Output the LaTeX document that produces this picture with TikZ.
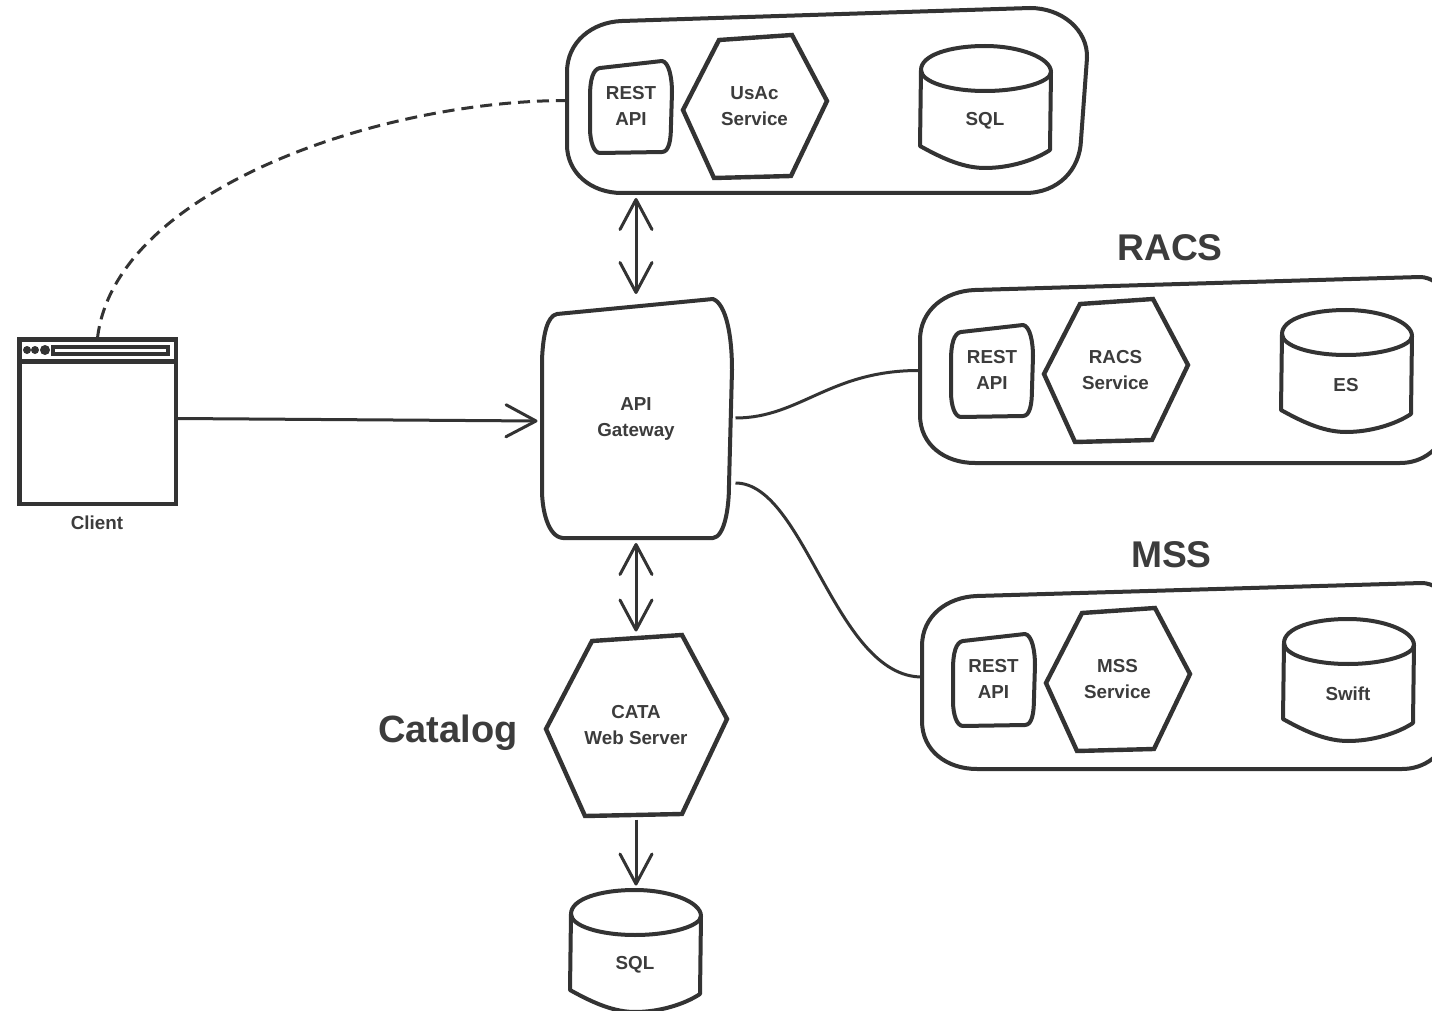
\documentclass[tikz,border=0pt]{standalone}
\usepackage{fontspec}
\setmainfont{Liberation Sans}
\usetikzlibrary{arrows.meta}
\definecolor{ink}{HTML}{333333}
\definecolor{inktext}{HTML}{3C3C3C}
\tikzset{
  outline/.style={draw=ink,line width=2pt,line join=round},
  thickoutline/.style={draw=ink,line width=2.2pt,line join=miter},
  link/.style={draw=ink,line width=1.5pt},
  openarrow/.style={link,-{Straight Barb[length=15pt,width=16pt,round]}},
  bothopen/.style={link,{Straight Barb[length=15pt,width=16pt,round]}-{Straight Barb[length=15pt,width=16pt,round]}},
  dashedlink/.style={draw=ink,line width=1.5pt,dash pattern=on 6pt off 3.5pt},
  label text/.style={inner sep=0pt,outer sep=0pt,align=center,text=inktext,font=\fontsize{9.4}{13}\selectfont\bfseries},
  heading/.style={inner sep=0pt,outer sep=0pt,text=inktext,font=\fontsize{18.6}{22}\selectfont\bfseries},
  restshape/.pic={
    \path[outline] (600,68) -- (662,61) .. controls (669,62) and (672,78) .. (672,92) -- (671,125)
      .. controls (671,140) and (669,152) .. (662,152) -- (600,153)
      .. controls (594,153) and (590,142) .. (590,128) -- (590,96)
      .. controls (590,80) and (593,69) .. (600,68) -- cycle;
  },
  hexshape/.pic={
    \path[thickoutline] (719,40) -- (792,35) -- (827,101) -- (791,176) -- (714,178) -- (683,110) -- cycle;
  },
  cylshape/.pic={
    \path[outline] (921,70) .. controls (921,55) and (950,46) .. (985,46)
      .. controls (1020,46) and (1051,58) .. (1051,72)
      .. controls (1051,82) and (1020,91) .. (985,91)
      .. controls (950,91) and (921,82) .. (921,70) -- cycle;
    \path[outline] (921,70) -- (920,146) .. controls (945,160) and (965,168) .. (985,168)
      .. controls (1010,168) and (1035,160) .. (1050,150) -- (1051,72);
  },
  groupshape/.pic={
    \path[outline] (975,290) -- (1420,277) .. controls (1430,277) and (1442,284) .. (1452,300)
      -- (1452,420) .. controls (1442,450) and (1422,463) .. (1400,463)
      -- (975,463) .. controls (945,463) and (920,445) .. (920,415)
      -- (920,340) .. controls (920,310) and (945,291) .. (975,290) -- cycle;
  }
}
\begin{document}
\begin{tikzpicture}[x=0.5pt,y=-0.5pt]
\clip (0,0) rectangle (1432,1011);
\fill[white] (0,0) rectangle (1432,1011);

% top group
\path[outline] (622,21) -- (1030,8) .. controls (1062,8) and (1088,30) .. (1087,58)
  -- (1081,140) .. controls (1080,170) and (1058,193) .. (1025,193)
  -- (622,193) .. controls (590,193) and (567,172) .. (567,145)
  -- (567,72) .. controls (567,42) and (592,22) .. (622,21) -- cycle;
\pic at (0,0) {restshape};
\pic at (0,0) {hexshape};
\pic at (0,0) {cylshape};

% RACS group
\pic at (0,0) {groupshape};
\pic at (361,264) {restshape};
\pic at (361,264) {hexshape};
\pic at (361,264) {cylshape};

% MSS group
\pic at (2,306) {groupshape};
\pic at (363,573) {restshape};
\pic at (363,573) {hexshape};
\pic at (363,573) {cylshape};

% gateway
\path[outline] (557,314) -- (713,299) .. controls (726,304) and (732,335) .. (732,370)
  -- (729,485) .. controls (729,510) and (724,537) .. (713,538)
  -- (563,538) .. controls (548,537) and (542,510) .. (542,490)
  -- (542,360) .. controls (543,335) and (547,316) .. (557,314) -- cycle;

% catalog hexagon
\path[thickoutline] (592,641) -- (682,635) -- (727,719) -- (682,814) -- (585,816) -- (546,729) -- cycle;

% catalog database
\pic at (-350,844) {cylshape};

% client window
\path[draw=ink,line width=2.4pt] (19.5,339.5) rectangle (176,504);
\path[draw=ink,line width=2.2pt] (19,361.5) -- (176,361.5);
\path[draw=ink,line width=2pt] (53,347) rectangle (168,354);
\fill[ink] (27,350) circle (4) (35,350) circle (4) (45,350) circle (5);

% nodes: each carries its text and spans its shape
\node[label text,minimum width=97.5pt,minimum height=120pt] (gw) at (636,419) {API\\Gateway};
\node[label text,minimum width=79.5pt,minimum height=83.5pt] (client) at (97.5,421.5) {};
\node[label text] (clientlabel) at (97,522.5) {Client};
\node[label text,minimum width=260pt,minimum height=92.5pt] (usac) at (827,100.5) {};
\node[label text] (usacrest) at (631,106) {REST\\API};
\node[label text] (usacsvc) at (754.5,106) {UsAc\\Service};
\node[label text] (usacdb) at (985,121) {SQL};
\node[label text,minimum width=270pt,minimum height=86.5pt] (racs) at (1190,376.5) {};
\node[label text] (racsrest) at (992,370) {REST\\API};
\node[label text] (racssvc) at (1115.5,370) {RACS\\Service};
\node[label text] (racsdb) at (1346,385) {ES};
\node[label text,minimum width=270pt,minimum height=86.5pt] (mss) at (1192,683) {};
\node[label text] (mssrest) at (993.5,679) {REST\\API};
\node[label text] (msssvc) at (1117.5,679) {MSS\\Service};
\node[label text] (mssdb) at (1348,694) {Swift};
\node[label text,minimum width=90pt,minimum height=90pt] (cata) at (636,725.5) {CATA\\Web Server};
\node[label text,minimum width=65pt,minimum height=75pt] (catadb) at (635,964.5) {SQL};
\node[heading] (racstitle) at (1170,248) {RACS};
\node[heading] (msstitle) at (1171.5,555) {MSS};
\node[heading,font=\fontsize{19}{22}\selectfont\bfseries] (catatitle) at (448,733) {Catalog};

% connectors
\draw[dashedlink] (client.north) .. controls (115,190) and (380,100.5) .. (usac.west);
\draw[openarrow] ([yshift=1.5pt]client.east) -- ([yshift=-1pt,xshift=-0.5pt]gw.west);
\draw[bothopen,shorten <=2.5pt,shorten >=2.5pt] (gw.north |- usac.south) -- (gw.north);
\draw[bothopen,shorten <=2pt,shorten >=2pt] (gw.south) -- (cata.north);
\draw[openarrow,shorten <=2pt,shorten >=2pt] (cata.south) -- (cata.south |- catadb.north);
\draw[link] ([yshift=0.5pt,xshift=1pt]gw.east) .. controls (800,418) and (830,370) .. ([yshift=3pt]racs.west);
\draw[link] ([yshift=-32pt,xshift=1pt]gw.east) .. controls (805,483) and (835,677) .. ([yshift=3pt]mss.west);
\end{tikzpicture}
\end{document}
